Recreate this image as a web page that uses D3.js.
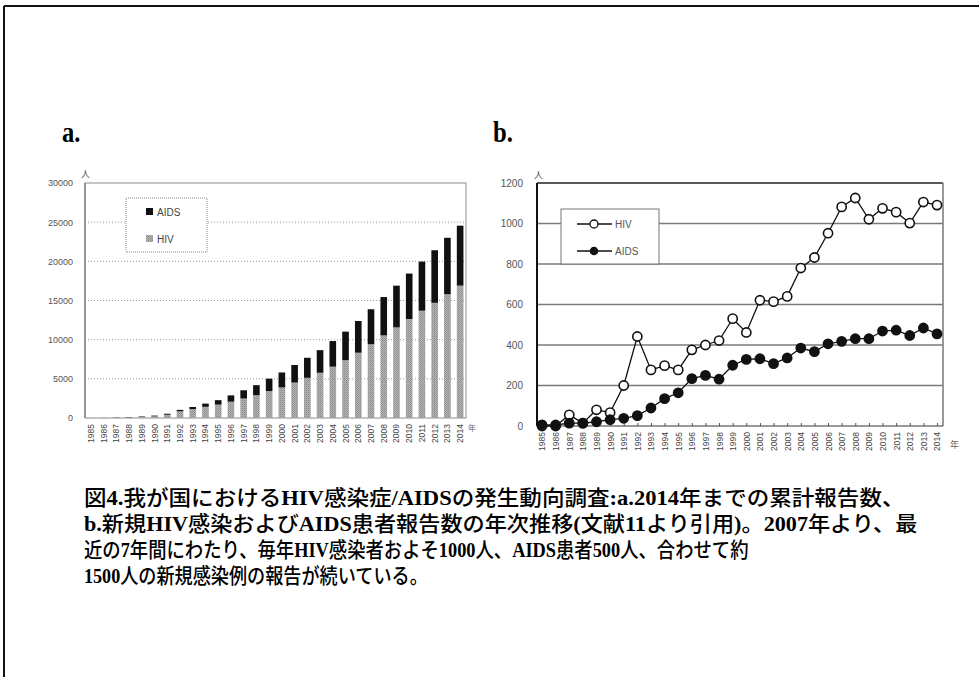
<!DOCTYPE html>
<html>
<head>
<meta charset="utf-8">
<script src="https://cdn.jsdelivr.net/npm/d3@7"></script>
<style>
  html, body { margin: 0; padding: 0; background: #fff; }
  svg { display: block; }
</style>
</head>
<body>
<svg id="fig" width="979" height="677"></svg>
<script>
// Years of report
const years = d3.range(1985, 2015).map(String);

// a. Cumulative reported cases up to each year
const cumHIV  = [0, 0, 55, 69, 149, 215, 415, 857, 1134, 1432, 1709, 2085, 2485, 2907, 3437,
                 3899, 4520, 5134, 5774, 6554, 7386, 8338, 9420, 10546, 11567, 12642, 13698, 14700, 15806, 16897];
const cumAIDS = [6, 11, 25, 39, 60, 91, 129, 180, 269, 404, 568, 802, 1052, 1283, 1583,
                 1912, 2244, 2552, 2888, 3273, 3640, 4046, 4464, 4895, 5326, 5795, 6268, 6715, 7199, 7654];

// b. Newly reported cases per year
const newHIV  = [0, 0, 55, 14, 80, 66, 200, 442, 277, 298, 277, 376, 400, 422, 530,
                 462, 621, 614, 640, 780, 832, 952, 1082, 1126, 1021, 1075, 1056, 1002, 1106, 1091];
const newAIDS = [6, 5, 14, 14, 21, 31, 38, 51, 89, 135, 164, 234, 250, 231, 300,
                 329, 332, 308, 336, 385, 367, 406, 418, 431, 431, 469, 473, 447, 484, 455];

const ticksA = [0, 5000, 10000, 15000, 20000, 25000, 30000];
const ticksB = [0, 200, 400, 600, 800, 1000, 1200];

const captionLines = [
  "図4.我が国におけるHIV感染症/AIDSの発生動向調査:a.2014年までの累計報告数、",
  "b.新規HIV感染およびAIDS患者報告数の年次推移(文献11より引用)。2007年より、最",
  "近の7年間にわたり、毎年HIV感染者およそ1000人、AIDS患者500人、合わせて約",
  "1500人の新規感染例の報告が続いている。"
];

const svg = d3.select("#fig");
const axisFont = "Arial, 'Liberation Sans', sans-serif";

// page frame
svg.append("line").attr("x1", 4).attr("y1", 6).attr("x2", 979).attr("y2", 6)
  .attr("stroke", "#111").attr("stroke-width", 2);
svg.append("line").attr("x1", 4).attr("y1", 6).attr("x2", 4).attr("y2", 677)
  .attr("stroke", "#111").attr("stroke-width", 2);

// panel letters (tall, condensed bold serif)
const letter = (x, txt) => svg.append("text")
  .attr("transform", `translate(${x},142) scale(0.85,1)`).text(txt)
  .attr("font-family", "'Liberation Serif', 'DejaVu Serif', serif")
  .attr("font-weight", "bold").attr("font-size", 29).attr("fill", "#000");
letter(62, "a.");
letter(493, "b.");

// grey dithered fill for HIV bars
const defs = svg.append("defs");
const pat = defs.append("pattern").attr("id", "dither").attr("patternUnits", "userSpaceOnUse")
  .attr("width", 2).attr("height", 2);
pat.append("rect").attr("width", 2).attr("height", 2).attr("fill", "#b4b4b4");
pat.append("rect").attr("width", 1).attr("height", 1).attr("fill", "#8a8a8a");
pat.append("rect").attr("x", 1).attr("y", 1).attr("width", 1).attr("height", 1).attr("fill", "#9c9c9c");

// ---------------- a. cumulative stacked bars ----------------
{
  const L = 85, R = 466, T = 183, B = 418;
  const x = d3.scaleBand().domain(years).range([L, R]).paddingInner(0.48).paddingOuter(0.2);
  const y = d3.scaleLinear().domain([0, 30000]).range([B, T]);
  const g = svg.append("g");

  // dotted grid
  g.selectAll("line.grid").data(ticksA.filter(t => t > 0 && t < 30000)).join("line")
    .attr("x1", L).attr("x2", R).attr("y1", d => y(d)).attr("y2", d => y(d))
    .attr("stroke", "#999").attr("stroke-width", 1).attr("stroke-dasharray", "1,2");

  // frame
  g.append("rect").attr("x", L).attr("y", T).attr("width", R - L).attr("height", B - T)
    .attr("fill", "none").attr("stroke", "#8c8c8c").attr("stroke-width", 1);
  g.append("line").attr("x1", L).attr("x2", L).attr("y1", T).attr("y2", B)
    .attr("stroke", "#777").attr("stroke-width", 1.2);

  // y axis labels
  const ya = d3.axisLeft(y).tickValues(ticksA).tickSize(0).tickPadding(12).tickFormat(d3.format("d"));
  const yg = g.append("g").attr("transform", `translate(${L},0)`).call(ya);
  yg.select(".domain").remove();
  yg.selectAll("text").attr("font-family", axisFont).attr("font-size", 9).attr("fill", "#555");

  // stacked bars
  const stackData = years.map((yr, i) => ({ year: yr, HIV: cumHIV[i], AIDS: cumAIDS[i] }));
  const series = d3.stack().keys(["HIV", "AIDS"])(stackData);
  const fills = { HIV: "url(#dither)", AIDS: "#111" };
  g.selectAll("g.series").data(series).join("g").attr("fill", d => fills[d.key])
    .selectAll("rect").data(d => d).join("rect")
    .attr("x", d => x(d.data.year)).attr("width", x.bandwidth())
    .attr("y", d => y(d[1])).attr("height", d => Math.max(0, y(d[0]) - y(d[1])));

  // x axis labels (rotated)
  const xa = d3.axisBottom(x).tickSize(0).tickPadding(0);
  const xg = g.append("g").attr("transform", `translate(0,${B})`).call(xa);
  xg.select(".domain").remove();
  xg.selectAll("text").attr("font-family", axisFont).attr("font-size", 8.5).attr("fill", "#444")
    .attr("transform", "rotate(-90)").attr("text-anchor", "end")
    .attr("x", -6).attr("y", 0).attr("dy", "0.35em");

  g.append("text").attr("x", 468).attr("y", 431).text("年")
    .attr("font-family", "'Noto Sans CJK JP'").attr("font-size", 8).attr("fill", "#666");
  g.append("text").attr("x", 81).attr("y", 177).text("人")
    .attr("font-family", "'Noto Sans CJK JP'").attr("font-size", 9).attr("fill", "#555");

  // legend
  const lg = g.append("g");
  lg.append("rect").attr("x", 126).attr("y", 198).attr("width", 81).attr("height", 54)
    .attr("fill", "#fff").attr("stroke", "#888").attr("stroke-dasharray", "1,1");
  const items = [{ key: "AIDS", fill: "#111", yy: 212 }, { key: "HIV", fill: "url(#dither)", yy: 239 }];
  items.forEach(it => {
    lg.append("rect").attr("x", 146).attr("y", it.yy - 4).attr("width", 7).attr("height", 7).attr("fill", it.fill);
    lg.append("text").attr("x", 157).attr("y", it.yy).attr("dy", "0.35em").text(it.key)
      .attr("font-family", axisFont).attr("font-size", 10).attr("fill", "#444");
  });
}

// ---------------- b. yearly new cases ----------------
{
  const L = 537, R = 943, T = 183, B = 426;
  const x = d3.scalePoint().domain(years).range([542, 937]);
  const y = d3.scaleLinear().domain([0, 1200]).range([B, T]);
  const g = svg.append("g");

  // grid
  g.selectAll("line.grid").data(ticksB.filter(t => t > 0 && t < 1200)).join("line")
    .attr("x1", L).attr("x2", R).attr("y1", d => y(d)).attr("y2", d => y(d))
    .attr("stroke", "#7a7a7a").attr("stroke-width", 1.3);

  // frame
  g.append("line").attr("x1", L).attr("x2", R).attr("y1", T).attr("y2", T).attr("stroke", "#222").attr("stroke-width", 1.5);
  g.append("line").attr("x1", R).attr("x2", R).attr("y1", T).attr("y2", B).attr("stroke", "#777").attr("stroke-width", 1.5);
  g.append("line").attr("x1", L).attr("x2", L).attr("y1", T).attr("y2", B).attr("stroke", "#111").attr("stroke-width", 2);

  // bottom axis with small upward ticks
  const xa = d3.axisBottom(x).tickSizeInner(-3).tickSizeOuter(0).tickPadding(7);
  const xg = g.append("g").attr("transform", `translate(0,${B})`).call(xa);
  xg.select(".domain").attr("d", `M${L},0H${R}`).attr("stroke", "#333").attr("stroke-width", 1.2);
  xg.selectAll(".tick line").attr("stroke", "#555");
  xg.selectAll("text").attr("font-family", axisFont).attr("font-size", 8.5).attr("fill", "#444")
    .attr("transform", "rotate(-90)").attr("text-anchor", "end")
    .attr("x", -6).attr("y", 0).attr("dy", "0.35em");

  // y labels
  const ya = d3.axisLeft(y).tickValues(ticksB).tickSize(0).tickPadding(14).tickFormat(d3.format("d"));
  const yg = g.append("g").attr("transform", `translate(${L},0)`).call(ya);
  yg.select(".domain").remove();
  yg.selectAll("text").attr("font-family", axisFont).attr("font-size", 10).attr("fill", "#555");

  g.append("text").attr("x", 534).attr("y", 178).text("人")
    .attr("font-family", "'Noto Sans CJK JP'").attr("font-size", 9).attr("fill", "#555");
  g.append("text").attr("x", 950).attr("y", 448).text("年")
    .attr("font-family", "'Noto Sans CJK JP'").attr("font-size", 9).attr("fill", "#666");

  // legend
  const lg = g.append("g");
  lg.append("rect").attr("x", 561).attr("y", 209).attr("width", 98).attr("height", 55)
    .attr("fill", "#fff").attr("stroke", "#777").attr("stroke-width", 1);

  const line = d3.line().x((d, i) => x(years[i])).y(d => y(d));
  const drawSeries = (vals, filled) => {
    g.append("path").datum(vals).attr("d", line).attr("fill", "none")
      .attr("stroke", "#111").attr("stroke-width", 1.3);
    g.append("g").selectAll("circle").data(vals).join("circle")
      .attr("cx", (d, i) => x(years[i])).attr("cy", d => y(d)).attr("r", 4.6)
      .attr("fill", filled ? "#111" : "#fff").attr("stroke", "#111").attr("stroke-width", 1.6);
  };
  drawSeries(newHIV, false);
  drawSeries(newAIDS, true);

  const items = [{ key: "HIV", filled: false, yy: 224 }, { key: "AIDS", filled: true, yy: 251 }];
  items.forEach(it => {
    lg.append("line").attr("x1", 577).attr("x2", 612).attr("y1", it.yy).attr("y2", it.yy)
      .attr("stroke", "#111").attr("stroke-width", 1.3);
    lg.append("circle").attr("cx", 594).attr("cy", it.yy).attr("r", it.filled ? 3.6 : 4)
      .attr("fill", it.filled ? "#111" : "#fff").attr("stroke", "#111").attr("stroke-width", 1.3);
    lg.append("text").attr("x", 615).attr("y", it.yy).attr("dy", "0.35em").text(it.key)
      .attr("font-family", axisFont).attr("font-size", 10).attr("fill", "#555");
  });
}

// ---------------- caption ----------------
{
  const lineX = 84, lineY = [505, 531, 557, 583];
  const lineRight = [905, 918, 749, 428];
  captionLines.forEach((txt, i) => {
    const t = svg.append("text").attr("x", 0).attr("y", 0).attr("font-size", 21).attr("fill", "#000");
    // Latin/digit runs in bold serif, Japanese in CJK font
    const parts = txt.match(/[\x20-\x7E]+|[^\x20-\x7E]+/g);
    parts.forEach(p => {
      const latin = /^[\x20-\x7E]+$/.test(p);
      t.append("tspan").text(p)
        .attr("font-family", latin ? "'Liberation Serif', serif" : "'Noto Sans CJK JP', sans-serif")
        .attr("font-weight", latin ? "bold" : "500");
    });
    const w = t.node().getComputedTextLength();
    const s = (lineRight[i] - lineX) / w;
    t.attr("transform", `translate(${lineX},${lineY[i]}) scale(${s.toFixed(4)},1)`);
  });
}
</script>
</body>
</html>
